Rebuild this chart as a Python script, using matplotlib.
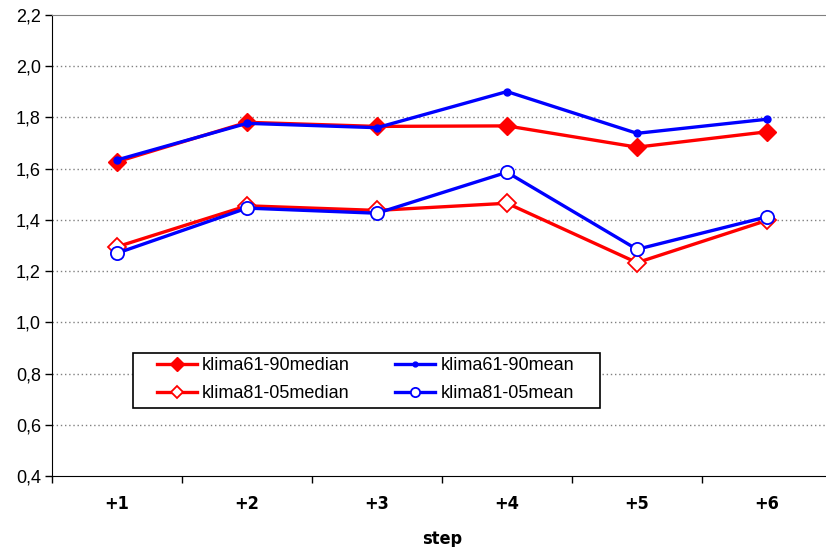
import matplotlib.pyplot as plt
from matplotlib.patches import Rectangle
from matplotlib.ticker import FuncFormatter, FixedLocator, NullFormatter

plt.rcParams['font.family'] = ['Liberation Sans', 'DejaVu Sans']

steps = ['+1', '+2', '+3', '+4', '+5', '+6']
median_61_90 = [1.627, 1.781, 1.765, 1.767, 1.684, 1.744]
mean_61_90 = [1.634, 1.777, 1.760, 1.901, 1.738, 1.793]
median_81_05 = [1.295, 1.455, 1.437, 1.465, 1.233, 1.398]
mean_81_05 = [1.270, 1.446, 1.426, 1.586, 1.285, 1.412]

x = list(range(1, len(steps) + 1))

W, H = 826, 547
fig = plt.figure(figsize=(W / 100, H / 100), dpi=100)
left, right, top, bottom = 52, 832, 15, 476
ax = fig.add_axes([left / W, 1 - bottom / H, (right - left) / W, (bottom - top) / H])

red = '#ff0000'
blue = '#0000ff'
l1, = ax.plot(x, median_61_90, color=red, lw=2.4, marker='D', ms=9.5,
              mfc=red, mec=red, label='klima61-90median', zorder=3)
l2, = ax.plot(x, mean_61_90, color=blue, lw=2.4, marker='o', ms=5,
              mfc=blue, mec=blue, label='klima61-90mean', zorder=4)
l3, = ax.plot(x, median_81_05, color=red, lw=2.4, marker='D', ms=9,
              mfc='white', mec=red, mew=1.3, label='klima81-05median', zorder=3)
l4, = ax.plot(x, mean_81_05, color=blue, lw=2.4, marker='o', ms=9.5,
              mfc='white', mec=blue, mew=1.3, label='klima81-05mean', zorder=4)

ax.set_xlim(0.5, 6.5)
ax.set_ylim(0.4, 2.2)
ax.set_yticks([0.4 + 0.2 * i for i in range(10)])
ax.yaxis.set_major_formatter(FuncFormatter(lambda v, p: f'{v:.1f}'.replace('.', ',')))
ax.tick_params(axis='y', direction='out', length=5, width=1, labelsize=13, pad=3)

# category boundaries get the tick marks, the labels sit in between
ax.xaxis.set_major_locator(FixedLocator([i + 0.5 for i in range(0, 7)]))
ax.xaxis.set_major_formatter(NullFormatter())
ax.xaxis.set_minor_locator(FixedLocator(x))
ax.set_xticklabels(steps, minor=True)
ax.tick_params(axis='x', which='major', direction='out', length=5, width=1)
ax.tick_params(axis='x', which='minor', length=0, pad=14, labelsize=13)
for lbl in ax.get_xticklabels(minor=True):
    lbl.set_family('DejaVu Sans')
    lbl.set_fontweight('bold')
    lbl.set_fontstretch('condensed')

ax.set_xlabel('step', fontsize=13, fontweight='bold', labelpad=12,
              family='DejaVu Sans', fontstretch='condensed')

for v in [0.6 + 0.2 * i for i in range(8)]:
    ax.axhline(v, color='#808080', lw=1, ls=(0, (1, 2)), zorder=1)

ax.spines['right'].set_visible(False)
ax.spines['top'].set_color('#808080')
ax.spines['left'].set_color('black')
ax.spines['bottom'].set_color('black')

# legend box drawn separately so its padding can be set freely
fig.patches.append(Rectangle((133 / W, 1 - 408 / H), (600 - 133) / W, 55 / H,
                             transform=fig.transFigure, facecolor='white',
                             edgecolor='black', lw=1.2, zorder=5))
leg = fig.legend([l1, l3, l2, l4],
                 [l1.get_label(), l3.get_label(), l2.get_label(), l4.get_label()],
                 ncol=2, loc='upper left', bbox_to_anchor=(157 / W, 1 - 357 / H),
                 fontsize=13, frameon=False, borderpad=0, borderaxespad=0,
                 handlelength=2.2, handletextpad=0.3, columnspacing=2.5,
                 labelspacing=0.6, markerscale=0.7)
leg.set_zorder(6)

fig.savefig('out.png', dpi=100)
